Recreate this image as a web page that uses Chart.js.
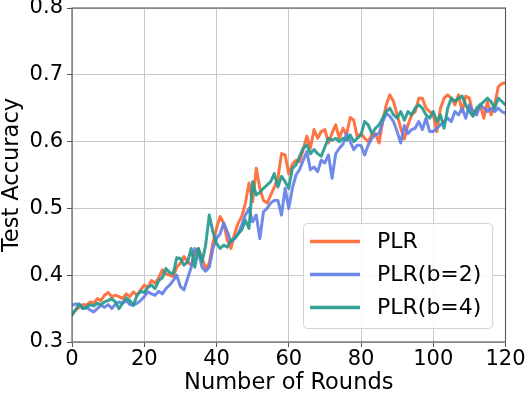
<!DOCTYPE html>
<html>
<head>
<meta charset="utf-8">
<script src="https://cdn.jsdelivr.net/npm/chart.js@4.4.0/dist/chart.umd.min.js"></script>
<style>
html,body{margin:0;padding:0;background:#fff;}
canvas{display:block;}
</style>
</head>
<body>
<canvas id="c" width="529" height="397"></canvas>
<script>
const seriesLabels = ["PLR", "PLR(b=2)", "PLR(b=4)"];
const xTicks = [0, 20, 40, 60, 80, 100, 120];
const yTicks = [0.3, 0.4, 0.5, 0.6, 0.7, 0.8];

const plr = [
0.342,0.348,0.352,0.356,0.355,0.360,0.358,0.365,0.362,0.370,
0.374,0.368,0.370,0.368,0.365,0.372,0.368,0.375,0.370,0.378,
0.385,0.382,0.392,0.388,0.396,0.408,0.402,0.400,0.398,0.412,
0.418,0.428,0.420,0.415,0.432,0.440,0.425,0.410,0.418,0.448,
0.470,0.488,0.478,0.452,0.440,0.462,0.478,0.488,0.508,0.538,
0.510,0.560,0.530,0.512,0.508,0.520,0.532,0.545,0.582,0.580,
0.552,0.566,0.572,0.570,0.588,0.608,0.590,0.618,0.605,0.615,
0.618,0.598,0.613,0.625,0.605,0.620,0.610,0.636,0.632,0.606,
0.612,0.605,0.600,0.610,0.612,0.598,0.630,0.655,0.670,0.660,
0.640,0.620,0.604,0.625,0.640,0.645,0.665,0.665,0.650,0.645,
0.640,0.615,0.650,0.665,0.670,0.665,0.655,0.670,0.645,0.668,
0.665,0.640,0.645,0.655,0.635,0.660,0.640,0.655,0.682,0.687,
0.688];

const plrB2 = [
0.355,0.357,0.356,0.350,0.352,0.348,0.345,0.350,0.355,0.352,
0.356,0.350,0.356,0.360,0.358,0.362,0.356,0.355,0.358,0.362,
0.368,0.375,0.372,0.370,0.376,0.372,0.380,0.385,0.392,0.400,
0.383,0.378,0.395,0.412,0.440,0.435,0.412,0.406,0.412,0.440,
0.455,0.462,0.478,0.465,0.450,0.455,0.462,0.475,0.490,0.500,
0.480,0.490,0.455,0.495,0.500,0.508,0.512,0.512,0.490,0.530,
0.500,0.530,0.550,0.558,0.572,0.585,0.558,0.562,0.555,0.572,
0.568,0.580,0.545,0.582,0.590,0.596,0.612,0.600,0.588,0.595,
0.594,0.580,0.595,0.605,0.610,0.612,0.630,0.642,0.638,0.630,
0.615,0.598,0.624,0.612,0.618,0.620,0.630,0.618,0.635,0.615,
0.615,0.620,0.625,0.630,0.635,0.630,0.645,0.640,0.650,0.635,
0.655,0.645,0.640,0.655,0.650,0.645,0.650,0.645,0.650,0.645,
0.642];

const plrB4 = [
0.340,0.348,0.357,0.350,0.352,0.356,0.354,0.358,0.356,0.360,
0.362,0.365,0.360,0.350,0.358,0.366,0.362,0.355,0.370,0.376,
0.374,0.382,0.385,0.380,0.392,0.396,0.410,0.404,0.402,0.426,
0.425,0.415,0.420,0.440,0.412,0.440,0.420,0.445,0.490,0.465,
0.448,0.440,0.445,0.442,0.452,0.455,0.462,0.468,0.482,0.470,
0.540,0.520,0.524,0.530,0.535,0.540,0.552,0.532,0.548,0.540,
0.530,0.560,0.565,0.578,0.590,0.595,0.582,0.588,0.582,0.578,
0.592,0.605,0.602,0.605,0.600,0.605,0.602,0.610,0.600,0.605,
0.610,0.630,0.625,0.612,0.620,0.625,0.635,0.645,0.650,0.640,
0.635,0.645,0.632,0.645,0.640,0.650,0.655,0.650,0.640,0.635,
0.645,0.630,0.640,0.620,0.650,0.665,0.660,0.665,0.668,0.655,
0.645,0.638,0.650,0.655,0.660,0.665,0.660,0.650,0.665,0.660,
0.655];

const colors = ["rgba(255,104,52,0.92)", "rgba(100,128,232,0.92)", "rgba(38,154,142,0.92)"];
const FONT = "'DejaVu Sans', sans-serif";

function pts(arr){ return arr.map((v,i)=>({x:i, y:v})); }

const frameAndLegend = {
  id: 'frameAndLegend',
  afterDatasetsDraw(chart){
    const {ctx, chartArea:a} = chart;
    ctx.save();
    ctx.strokeStyle = '#555';
    ctx.lineWidth = 1.1;
    ctx.strokeRect(a.left, a.top, a.right - a.left, a.bottom - a.top);
    ctx.restore();
  },
  afterDraw(chart){
    const ctx = chart.ctx;
    const bx = 303.5, by = 223.5, bw = 189, bh = 105, r = 4;
    ctx.save();
    ctx.beginPath();
    ctx.moveTo(bx + r, by);
    ctx.arcTo(bx + bw, by, bx + bw, by + bh, r);
    ctx.arcTo(bx + bw, by + bh, bx, by + bh, r);
    ctx.arcTo(bx, by + bh, bx, by, r);
    ctx.arcTo(bx, by, bx + bw, by, r);
    ctx.closePath();
    ctx.fillStyle = 'rgba(255,255,255,0.85)';
    ctx.fill();
    ctx.strokeStyle = '#d3d3d3';
    ctx.lineWidth = 1;
    ctx.stroke();
    chart.data.datasets.forEach((ds, i) => {
      const y = 241.5 + i * 33;
      ctx.beginPath();
      ctx.moveTo(310, y);
      ctx.lineTo(360, y);
      ctx.strokeStyle = ds.borderColor;
      ctx.lineWidth = 3.5;
      ctx.stroke();
      ctx.fillStyle = '#000';
      ctx.font = '22px ' + FONT;
      ctx.textBaseline = 'middle';
      ctx.textAlign = 'left';
      ctx.fillText(ds.label, 377, y + 1);
    });
    ctx.restore();
  }
};

new Chart(document.getElementById('c'), {
  type: 'line',
  data: {
    datasets: [
      {label: seriesLabels[0], data: pts(plr), borderColor: colors[0], order: 3},
      {label: seriesLabels[1], data: pts(plrB2), borderColor: colors[1], order: 2},
      {label: seriesLabels[2], data: pts(plrB4), borderColor: colors[2], order: 1}
    ]
  },
  options: {
    responsive: false,
    devicePixelRatio: 1,
    animation: false,
    layout: {padding: {left: 0, right: 23.5, top: 8, bottom: 0}},
    elements: {
      line: {borderWidth: 3, tension: 0, borderJoinStyle: 'round', borderCapStyle: 'round', fill: false},
      point: {radius: 0, hoverRadius: 0}
    },
    plugins: {legend: {display: false}, tooltip: {enabled: false}},
    scales: {
      x: {
        type: 'linear', min: 0, max: 120,
        afterBuildTicks(s){ s.ticks = xTicks.map(v => ({value: v})); },
        afterFit(s){ s.height = 55; s.paddingLeft = 0; s.paddingRight = 0; },
        grid: {color: '#c8c8c8', lineWidth: 1, tickLength: 5, tickColor: '#555'},
        border: {display: false},
        ticks: {color: '#000', padding: 0, maxRotation: 0, autoSkip: false,
                font: {family: FONT, size: 21}},
        title: {display: true, text: 'Number of Rounds', color: '#000', padding: 0,
                font: {family: FONT, size: 22.5, lineHeight: 1.2}}
      },
      y: {
        type: 'linear', min: 0.3, max: 0.8,
        afterBuildTicks(s){ s.ticks = yTicks.map(v => ({value: v})); },
        afterFit(s){ s.width = 72; s.paddingTop = 0; s.paddingBottom = 0; },
        grid: {color: '#c8c8c8', lineWidth: 1, tickLength: 5, tickColor: '#555'},
        border: {display: false},
        ticks: {color: '#000', padding: 4, autoSkip: false,
                font: {family: FONT, size: 21},
                callback: v => Number(v).toFixed(1)},
        title: {display: true, text: 'Test Accuracy', color: '#000', padding: 0,
                font: {family: FONT, size: 22.5, lineHeight: 1.1}}
      }
    }
  },
  plugins: [frameAndLegend]
});
</script>
</body>
</html>
